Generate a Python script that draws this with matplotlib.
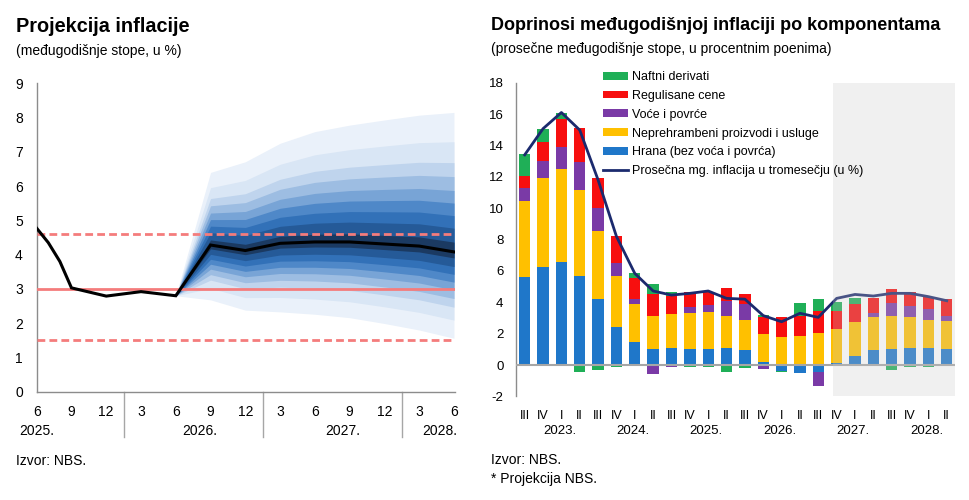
import matplotlib
matplotlib.use('Agg')
import matplotlib.pyplot as plt
import numpy as np
from matplotlib.patches import Patch, Rectangle
from matplotlib.lines import Line2D
import matplotlib.transforms as mtransforms

plt.rcParams['font.family'] = ['Liberation Sans', 'DejaVu Sans']
plt.rcParams['axes.unicode_minus'] = False

# ---------------- data: left chart (fan chart) ----------------
hist_month = [0, 1, 2, 3, 6, 9, 12]
hist_vals = [4.77, 4.35, 3.80, 3.03, 2.79, 2.92, 2.80]
proj_month = [12, 15, 18, 21, 24, 27, 30, 33, 36]
proj_center = [2.80, 4.28, 4.12, 4.33, 4.37, 4.37, 4.31, 4.25, 4.08]
fan_upper = [2.80, 6.40, 6.71, 7.25, 7.59, 7.78, 7.93, 8.07, 8.15]
fan_lower = [2.80, 2.68, 2.38, 2.33, 2.26, 2.16, 1.99, 1.80, 1.56]
fan_fracs = [1.0, 0.79, 0.64, 0.54, 0.44, 0.35, 0.26, 0.17, 0.07]
month_ticks = [0, 3, 6, 9, 12, 15, 18, 21, 24, 27, 30, 33, 36]
month_labels = ['6', '9', '12', '3', '6', '9', '12', '3', '6', '9', '12', '3', '6']
year_labels_l = ['2025.', '2026.', '2027.', '2028.']
year_pos_l = [0, 14.1, 26.4, 34.8]
year_sep_l = [7.5, 19.5, 31.5]
target = 3.0
band_hi = 4.6
band_lo = 1.5

# ---------------- data: right chart (contributions) ----------------
quarters = ['III', 'IV', 'I', 'II', 'III', 'IV', 'I', 'II', 'III', 'IV', 'I', 'II',
            'III', 'IV', 'I', 'II', 'III', 'IV', 'I', 'II', 'III', 'IV', 'I', 'II']
years_r = ['2023.', '2024.', '2025.', '2026.', '2027.', '2028.']
year_pos_r = [2, 6, 10, 14, 18, 22]
hrana = [5.63, 6.25, 6.57, 5.67, 4.21, 2.44, 1.49, 1.00, 1.06, 1.00, 1.02, 1.10,
         0.94, 0.17, -0.38, -0.53, -0.47, 0.15, 0.57, 0.96, 1.02, 1.10, 1.10, 1.02]
neprehr = [4.85, 5.69, 5.95, 5.49, 4.33, 3.23, 2.40, 2.15, 2.19, 2.31, 2.34, 2.02,
           1.93, 1.81, 1.81, 1.87, 2.06, 2.15, 2.19, 2.08, 2.13, 1.98, 1.77, 1.79]
voce = [0.82, 1.04, 1.40, 1.80, 1.45, 0.81, 0.30, -0.57, -0.15, 0.37, 0.47, 0.96,
        1.00, -0.26, 0.00, 0.00, -0.87, 0.00, 0.00, 0.30, 0.83, 0.70, 0.68, 0.34]
regul = [0.77, 1.26, 1.78, 2.17, 1.91, 1.74, 1.38, 1.35, 1.17, 0.95, 0.85, 0.81,
         0.68, 1.06, 1.27, 1.26, 1.41, 1.17, 1.11, 0.95, 0.85, 0.85, 0.81, 1.04]
nafta = [1.36, 0.83, 0.39, -0.42, -0.32, -0.15, 0.27, 0.64, 0.21, -0.10, -0.10, -0.47,
         -0.17, 0.15, -0.05, 0.80, 0.72, 0.57, 0.42, -0.05, -0.32, -0.15, -0.12, -0.05]
avg_infl = [13.4, 15.07, 16.1, 14.98, 11.8, 8.2, 5.84, 4.72, 4.46, 4.57, 4.72, 4.25,
            4.2, 3.15, 2.76, 3.3, 3.04, 4.25, 4.5, 4.4, 4.57, 4.57, 4.36, 4.1]
proj_start = 16.8

W, H = 970, 500
fig = plt.figure(figsize=(W / 100, H / 100), dpi=100)


def ax_px(l, t, r, b):
    return fig.add_axes([l / W, 1 - b / H, (r - l) / W, (b - t) / H])


def fy(ypx):
    return 1 - ypx / H


GRAY = '#8c8c8c'
SALMON = '#f47c7c'

# ================= LEFT CHART =================
axl = ax_px(36.7, 83.3, 455, 391.7)
axl.set_xlim(0, 36.09)
axl.set_ylim(0, 9)

fan_colors = ['#eaf1fa', '#d9e6f5', '#bfd4ed', '#9dbde2', '#78a4d6',
              '#4f88c8', '#3271b8', '#255a98', '#1b3a62']
c = np.array(proj_center)
up = np.array(fan_upper)
lo = np.array(fan_lower)
for f, col in zip(fan_fracs, fan_colors):
    axl.fill_between(proj_month, c - f * (c - lo), c + f * (up - c),
                     color=col, linewidth=0, zorder=1)

axl.axhline(target, color=SALMON, lw=2.0, zorder=3)
axl.axhline(band_hi, color=SALMON, lw=2.0, ls=(0, (2.8, 1.5)), zorder=3)
axl.axhline(band_lo, color=SALMON, lw=2.0, ls=(0, (2.8, 1.5)), zorder=3)

line_x = hist_month + proj_month[1:]
line_y = hist_vals + proj_center[1:]
axl.plot(line_x, line_y, color='black', lw=2.2, zorder=4, solid_joinstyle='miter')

for s in ['top', 'right']:
    axl.spines[s].set_visible(False)
for s in ['left', 'bottom']:
    axl.spines[s].set_color(GRAY)
    axl.spines[s].set_linewidth(1.0)
axl.set_yticks(range(0, 10))
axl.set_xticks(month_ticks)
axl.set_xticklabels(month_labels)
axl.tick_params(axis='y', length=0, pad=10, labelsize=10)
axl.tick_params(axis='x', length=0, pad=9.5, labelsize=10)

trl = mtransforms.blended_transform_factory(axl.transData, axl.transAxes)
hL = 391.7 - 83.3
for xs in year_sep_l:
    axl.plot([xs, xs], [0, -(437 - 391.7) / hL], color='#a6a6a6', lw=1,
             transform=trl, clip_on=False)
for xp, lab in zip(year_pos_l, year_labels_l):
    axl.text(xp, -(430.7 - 391.7) / hL, lab, transform=trl, ha='center',
             va='center', fontsize=10)

fig.text(16 / W, fy(31.5), 'Projekcija inflacije', fontsize=14.3,
         fontweight='bold', va='baseline', ha='left')
fig.text(16 / W, fy(54.5), '(međugodišnje stope, u %)', fontsize=10,
         va='baseline', ha='left')
fig.text(16 / W, fy(465), 'Izvor: NBS.', fontsize=10, va='baseline', ha='left')

# ================= RIGHT CHART =================
axr = ax_px(516, 82.7, 955, 396.4)
axr.set_xlim(-0.474, 23.45)
axr.set_ylim(-2, 18)

series = [hrana, neprehr, voce, regul, nafta]
colors = ['#1f77c9', '#ffc000', '#7a3aa6', '#f70f0f', '#1faf57']
names = ['Hrana (bez voća i povrća)', 'Neprehrambeni proizvodi i usluge',
         'Voće i povrće', 'Regulisane cene', 'Naftni derivati']
x = np.arange(len(quarters))
pos_base = np.zeros(len(x))
neg_base = np.zeros(len(x))
for vals, col in zip(series, colors):
    v = np.array(vals)
    p = np.where(v > 0, v, 0)
    n = np.where(v < 0, v, 0)
    axr.bar(x, p, bottom=pos_base, width=0.62, color=col, linewidth=0, zorder=2)
    axr.bar(x, n, bottom=neg_base, width=0.62, color=col, linewidth=0, zorder=2)
    pos_base += p
    neg_base += n

axr.axhline(0, color='#a6a6a6', lw=1.5, zorder=3)
axr.plot(x, avg_infl, color='#1b2a6e', lw=2.0, zorder=4)
axr.add_patch(Rectangle((proj_start, -2), 23.45 - proj_start, 20,
                        facecolor='#c8c8c8', alpha=0.27, edgecolor='none', zorder=5))

for s in ['top', 'right', 'bottom']:
    axr.spines[s].set_visible(False)
axr.spines['left'].set_color(GRAY)
axr.spines['left'].set_linewidth(1.0)
axr.set_yticks(range(-2, 19, 2))
axr.set_xticks(x)
axr.set_xticklabels(quarters)
axr.tick_params(axis='y', length=0, pad=9, labelsize=9.5)
axr.tick_params(axis='x', length=0, pad=10, labelsize=9)

trr = mtransforms.blended_transform_factory(axr.transData, axr.transAxes)
hR = 396.4 - 82.7
for xp, lab in zip(year_pos_r, years_r):
    axr.text(xp - 0.1, -(431 - 396.4) / hR, lab, transform=trr, ha='center',
             va='center', fontsize=9.5)

handles = [Patch(facecolor=colors[4], edgecolor='none'),
           Patch(facecolor=colors[3], edgecolor='none'),
           Patch(facecolor=colors[2], edgecolor='none'),
           Patch(facecolor=colors[1], edgecolor='none'),
           Patch(facecolor=colors[0], edgecolor='none'),
           Line2D([0], [0], color='#1b2a6e', lw=2.0)]
labels = [names[4], names[3], names[2], names[1], names[0],
          'Prosečna mg. inflacija u tromesečju (u %)']
leg = axr.legend(handles, labels, loc='upper left',
                 bbox_to_anchor=(603 / W, fy(71)), bbox_transform=fig.transFigure,
                 frameon=False, fontsize=9, borderaxespad=0, borderpad=0,
                 handlelength=2.0, handleheight=0.6, handletextpad=0.35,
                 labelspacing=0.55)
leg.set_zorder(10)

fig.text(491 / W, fy(30.5), 'Doprinosi međugodišnjoj inflaciji po komponentama',
         fontsize=13, fontweight='bold', va='baseline', ha='left')
fig.text(491 / W, fy(53.5), '(prosečne međugodišnje stope, u procentnim poenima)',
         fontsize=10, va='baseline', ha='left')
fig.text(491 / W, fy(464), 'Izvor: NBS.', fontsize=10, va='baseline', ha='left')
fig.text(491 / W, fy(483), '* Projekcija NBS.', fontsize=10, va='baseline', ha='left')

fig.savefig('out.png', dpi=100)
